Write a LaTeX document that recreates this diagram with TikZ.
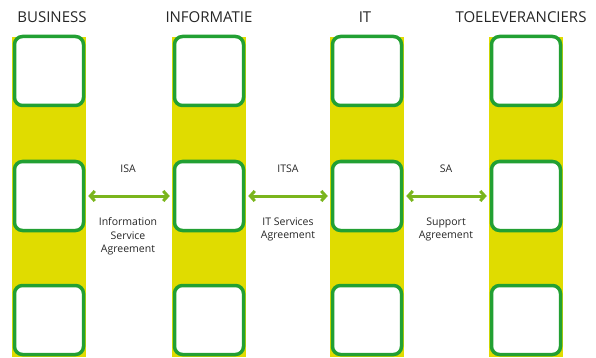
\documentclass[tikz,border=0pt]{standalone}
\usepackage{fontspec}
\setmainfont{Open Sans}
\usetikzlibrary{arrows.meta}
\definecolor{baryellow}{HTML}{E0DC00}
\definecolor{boxgreen}{HTML}{22A033}
\definecolor{arrowgreen}{HTML}{7AB51D}
\begin{document}
\begin{tikzpicture}[x=1pt,y=-1pt,
  bar/.style={fill=baryellow,draw=none},
  cell/.style={draw=boxgreen,line width=3.5pt,fill=white,rounded corners=8pt,minimum width=69pt,minimum height=69pt,inner sep=0pt},
  head/.style={font=\fontsize{15}{17}\selectfont,text=black!85},
  lbl/.style={font=\fontsize{10.5}{13.5}\selectfont,align=center,text=black!85},
  link/.style={draw=arrowgreen,line width=3pt,{Straight Barb[length=4.5pt,width=10pt]}-{Straight Barb[length=4.5pt,width=10pt]},shorten <=3pt,shorten >=3pt}]
\useasboundingbox (0,0) rectangle (596,358);
\foreach \c/\n in {49/a,209/b,367/c,526/d}{
  \fill[bar] (\c-37,37) rectangle (\c+37,357);
  \node[cell] (\n1) at (\c,71) {};
  \node[cell] (\n2) at (\c,196) {};
  \node[cell] (\n3) at (\c,320) {};
}
\node[head] (h1) at (52,17) {BUSINESS};
\node[head] (h2) at (209,17) {INFORMATIE};
\node[head] (h3) at (365,17) {IT};
\node[head] (h4) at (521,17) {TOELEVERANCIERS};
\draw[link] (a2.east) -- (b2.west);
\draw[link] (b2.east) -- (c2.west);
\draw[link] (c2.east) -- (d2.west);
\node[lbl] (l1) at (128,169) {ISA};
\node[lbl] (l2) at (288,169) {ITSA};
\node[lbl] (l3) at (446,169) {SA};
\node[lbl,anchor=north] (m1) at (128,214) {Information\\Service\\Agreement};
\node[lbl,anchor=north] (m2) at (288,214) {IT Services\\Agreement};
\node[lbl,anchor=north] (m3) at (446,214) {Support\\Agreement};
\end{tikzpicture}
\end{document}
